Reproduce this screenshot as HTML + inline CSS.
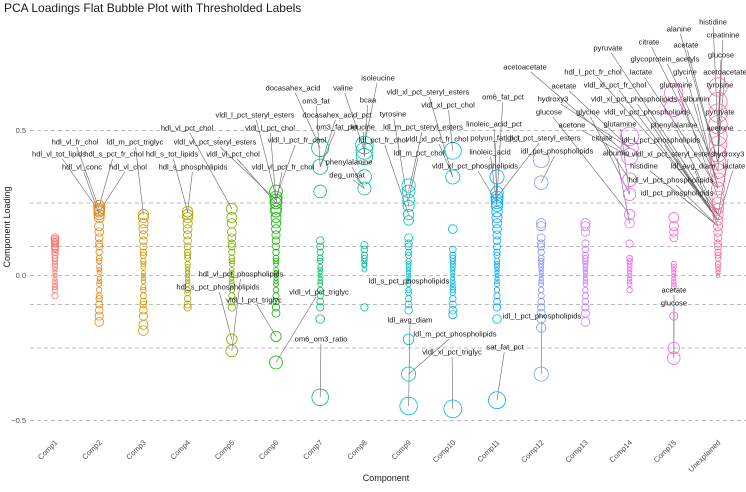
<!DOCTYPE html>
<html><head><meta charset="utf-8"><style>
html,body{margin:0;padding:0;background:#fff}
svg{display:block;font-family:"Liberation Sans",sans-serif}
</style></head><body>
<svg id="chart" width="746" height="492" viewBox="0 0 746 492">
<text x="4" y="12" font-size="12" fill="#1a1a1a">PCA Loadings Flat Bubble Plot with Thresholded Labels</text>
<g id="grid"></g>
<g id="yaxis"></g>
<g id="xaxis"></g>
<g id="segs"></g>
<g id="pts"></g>
<g id="lbls"></g>
<text x="10" y="227" font-size="9" fill="#1a1a1a" text-anchor="middle" transform="rotate(-90 10 227)">Component Loading</text>
<text x="386" y="481" font-size="9" fill="#1a1a1a" text-anchor="middle">Component</text>
</svg>
<script>
const categories = ["Comp1","Comp2","Comp3","Comp4","Comp5","Comp6","Comp7","Comp8","Comp9","Comp10","Comp11","Comp12","Comp13","Comp14","Comp15","Unexplained"];
const comp1 = [0.13,0.125,0.12,0.115,0.11,0.1,0.095,0.09,0.08,0.07,0.06,0.05,0.04,0.03,0.02,0.01,0,-0.01,-0.02,-0.03,-0.04,-0.05,-0.07];
const comp2 = [0.24,0.23,0.225,0.22,0.21,0.2,0.17,0.15,0.13,0.11,0.1,0.08,0.06,0.05,0.03,0.02,0.01,-0.01,-0.02,-0.03,-0.05,-0.07,-0.08,-0.1,-0.12,-0.14,-0.16];
const comp3 = [0.21,0.2,0.18,0.16,0.14,0.12,0.1,0.08,0.07,0.05,0.04,0.03,0.01,0,-0.01,-0.02,-0.04,-0.05,-0.07,-0.09,-0.1,-0.12,-0.14,-0.17,-0.19];
const comp4 = [0.22,0.21,0.2,0.18,0.16,0.14,0.12,0.1,0.08,0.07,0.06,0.04,0.03,0.02,0.01,0,-0.01,-0.02,-0.03,-0.05,-0.06,-0.08,-0.1,-0.11];
const comp5 = [0.23,0.2,0.18,0.15,0.13,0.11,0.1,0.08,0.06,0.05,0.04,0.02,0.01,0,-0.01,-0.02,-0.03,-0.05,-0.07,-0.09,-0.11,-0.22,-0.26];
const comp6 = [0.29,0.27,0.26,0.25,0.23,0.22,0.2,0.18,0.16,0.14,0.12,0.1,0.08,0.06,0.05,0.04,0.02,0.01,0,-0.01,-0.02,-0.03,-0.05,-0.07,-0.09,-0.11,-0.13,-0.21,-0.30];
const comp7 = [0.44,0.375,0.29,0.12,0.1,0.08,0.06,0.05,0.03,0.02,0.01,0,-0.01,-0.02,-0.03,-0.05,-0.07,-0.09,-0.11,-0.15,-0.42];
const comp8 = [0.45,0.43,0.41,0.34,0.30,0.105,0.09,0.07,0.06,0.05,0.04,0.035,0.02,-0.11];
const comp9 = [0.31,0.29,0.26,0.24,0.21,0.19,0.13,0.11,0.1,0.08,0.07,0.05,0.04,0.03,0.02,0.01,0,-0.01,-0.02,-0.03,-0.05,-0.06,-0.08,-0.1,-0.12,-0.22,-0.34,-0.45];
const comp10 = [0.43,0.34,0.16,0.09,0.07,0.06,0.05,0.04,0.03,0.02,0.01,0,-0.01,-0.02,-0.03,-0.04,-0.05,-0.06,-0.08,-0.1,-0.12,-0.135,-0.46];
const comp11 = [0.34,0.285,0.27,0.26,0.25,0.24,0.22,0.2,0.18,0.16,0.14,0.12,0.1,0.08,0.07,0.05,0.04,0.03,0.02,0.01,0,-0.01,-0.02,-0.03,-0.05,-0.07,-0.09,-0.11,-0.15,-0.43];
const comp12 = [0.40,0.32,0.18,0.17,0.13,0.11,0.1,0.08,0.06,0.05,0.04,0.03,0.02,0.01,0,-0.01,-0.02,-0.03,-0.05,-0.07,-0.09,-0.11,-0.13,-0.15,-0.18,-0.34];
const comp13 = [0.18,0.17,0.15,0.11,0.09,0.07,0.06,0.05,0.04,0.03,0.02,0.01,0,-0.01,-0.02,-0.03,-0.05,-0.07,-0.09,-0.11,-0.13,-0.16];
const comp14 = [0.48,0.44,0.41,0.33,0.28,0.21,0.18,0.11,0.06,0.05,0.04,0.03,0.02,0.01,0,-0.01,-0.02,-0.03,-0.05];
const comp15 = [0.63,0.58,0.20,0.17,0.15,0.13,0.04,0.03,0.02,0.01,0,-0.01,-0.02,-0.03,-0.04,-0.14,-0.25,-0.285];
const unexplained = [0.65,0.6,0.56,0.52,0.48,0.45,0.42,0.39,0.36,0.33,0.3,0.27,0.25,0.23,0.21,0.19,0.17,0.15,0.13,0.11,0.1,0.08,0.07,0.06,0.04,0.03,0.02,0.01,0];
const seriesValues = [comp1,comp2,comp3,comp4,comp5,comp6,comp7,comp8,comp9,comp10,comp11,comp12,comp13,comp14,comp15,unexplained];
const yTicks = [0.5,0,-0.5];
const yTickLabels = ["0.5","0.0","\u22120.5"];
const thresholds = [0.5,0.25,0.1,0,-0.1,-0.25,-0.5];
const labelTexts = ["hdl_vl_fr_chol","hdl_vl_tot_lipids","hdl_s_pct_fr_chol","hdl_vl_conc","hdl_vl_chol","ldl_m_pct_triglyc","hdl_s_tot_lipids","hdl_s_phospholipids","hdl_vl_pct_chol","vldl_l_pct_steryl_esters","vldl_vl_pct_steryl_esters","vldl_l_pct_chol","vldl_vl_pct_chol","vldl_l_pct_fr_chol","vldl_vl_pct_fr_chol","hdl_vl_pct_phospholipids","hdl_s_pct_phospholipids","vldl_l_pct_triglyc","vldl_vl_pct_triglyc","docasahex_acid","om3_fat","docasahex_acid_pct","om3_fat_pct","valine","isoleucine","bcaa","leucine","phenylalanine","deg_unsat","tyrosine","ldl_pct_fr_chol","ldl_m_pct_steryl_esters","ldl_m_pct_chol","vldl_xl_pct_steryl_esters","vldl_xl_pct_chol","vldl_xl_pct_fr_chol","ldl_s_pct_phospholipids","om6_om3_ratio","ldl_avg_diam","ldl_m_pct_phospholipids","vldl_xl_pct_triglyc","om6_fat_pct","linoleic_acid_pct","polyun_fat_pct","linoleic_acid","vldl_xl_pct_phospholipids","sat_fat_pct","ldl_l_pct_steryl_esters","idl_pct_phospholipids","idl_l_pct_phospholipids","acetoacetate","acetate","hydroxy3","glucose","acetone","glycine","citrate","glutamine","albumin","pyruvate","hdl_l_pct_fr_chol","vldl_xl_pct_fr_chol","vldl_xl_pct_phospholipids","vldl_vl_pct_phospholipids","phenylalanine","ldl_l_pct_phospholipids","vldl_xl_pct_steryl_esters","histidine","ldl_avg_diam","hdl_vl_pct_phospholipids","idl_pct_phospholipids","citrate","glycoprotein_acetyls","lactate","glutamine","albumin","alanine","acetate","glycine","histidine","creatinine","glucose","acetoacetate","tyrosine","pyruvate","acetone","hydroxy3","lactate","acetate","glucose"];
const labelComp = [1,1,1,1,1,2,3,3,4,5,5,5,5,5,5,4,4,5,5,6,6,6,6,7,7,7,7,7,7,8,8,8,8,9,9,9,8,6,8,8,9,10,10,10,10,10,10,10,11,11,13,13,13,13,13,13,13,13,13,15,15,15,15,15,15,15,15,15,15,15,15,15,15,15,15,15,15,15,15,15,15,15,15,15,15,15,15,15,14,14];
const labelValue = [0.23,0.22,0.24,0.21,0.22,0.21,0.22,0.22,0.23,0.27,0.26,0.26,0.25,0.27,0.25,-0.26,-0.22,-0.21,-0.30,0.44,0.375,0.375,0.375,0.43,0.45,0.41,0.41,0.30,0.30,0.24,0.21,0.29,0.26,0.34,0.43,0.34,0.0,-0.42,-0.45,-0.34,-0.46,0.27,0.25,0.26,0.24,0.25,-0.43,0.27,0.32,-0.34,0.41,0.44,0.44,0.21,0.41,0.28,0.33,0.28,0.18,0.21,0.21,0.19,0.19,0.19,0.21,0.19,0.19,0.17,0.17,0.17,0.17,0.33,0.36,0.3,0.27,0.3,0.39,0.39,0.3,0.48,0.45,0.36,0.42,0.52,0.45,0.39,0.21,0.19,-0.285,-0.285];
const labelLayoutX = [75,59,114,82,128,135,172,193,187,255,215,270,233,297,283,241,218,254,319,293,316,337,337,343,378,368,363,349,347,393,383,423,419,428,448,437,409,321,410,455,452,503,494,495,490,475,505,543,557,542,525,564,553,549,572,588,602,620,616,608,593,615,634,647,674,661,673,644,693,671,677,649,665,641,676,696,679,686,685,713,723,721,725,720,720,720,729,734,674,674];
const labelLayoutY = [142,154,154,167,167,142,154,167,128,115,142,128,154,140,167,274,287,300,292,88,101,115,127,88,78,100,127,162,175,114,140,127,153,92,105,139,281,339,320,334,352,97,124,138,152,166,347,138,151,316,67,86,99,112,125,112,138,124,153,48,72,85,99,112,125,140,154,166,166,180,193,42,59,72,85,99,29,45,72,22,35,55,72,85,112,128,154,166,290,303];

const NS = "http://www.w3.org/2000/svg";
const X0 = 55, DX = 44.2, Y0 = 275.5, YS = 290, XL = 30, XR = 746;
const xScale = i => X0 + i * DX;
const yScale = v => Y0 - v * YS;
const rScale = v => Math.min(2 + 15 * Math.abs(v), 9.2);

function hcl(h, c, l) {
  const Y = Math.pow((l + 16) / 116, 3);
  const un = 0.19784, vn = 0.46834;
  const hr = h * Math.PI / 180;
  const u = c * Math.cos(hr), v = c * Math.sin(hr);
  const up = u / (13 * l) + un, vp = v / (13 * l) + vn;
  const X = Y * 9 * up / (4 * vp), Z = Y * (12 - 3 * up - 20 * vp) / (4 * vp);
  let r = 3.2406 * X - 1.5372 * Y - 0.4986 * Z;
  let g = -0.9689 * X + 1.8758 * Y + 0.0415 * Z;
  let b = 0.0557 * X - 0.2040 * Y + 1.0570 * Z;
  const gm = t => { t = t <= 0.0031308 ? 12.92 * t : 1.055 * Math.pow(t, 1 / 2.4) - 0.055; return Math.round(Math.max(0, Math.min(1, t)) * 255); };
  return "rgb(" + gm(r) + "," + gm(g) + "," + gm(b) + ")";
}
const colors = categories.map((c, i) => hcl(15 + 360 * i / categories.length, 100, 65));

function mk(tag, attrs, parent) {
  const e = document.createElementNS(NS, tag);
  for (const k in attrs) e.setAttribute(k, attrs[k]);
  parent.appendChild(e);
  return e;
}
const grid = document.getElementById("grid");
thresholds.forEach(t => {
  const l = mk("line", {x1: XL, x2: XR, y1: yScale(t), y2: yScale(t), stroke: "#bdbdbd", "stroke-width": 0.9, "stroke-dasharray": "4,3"}, grid);
  
  
});
const yaxis = document.getElementById("yaxis");
yTicks.forEach((t, i) => {
  const tx = mk("text", {x: 26, y: yScale(t) + 2.5, "font-size": 7.5, fill: "#4d4d4d", "text-anchor": "end"}, yaxis);
  tx.textContent = yTickLabels[i];
  
  
});
const xaxis = document.getElementById("xaxis");
categories.forEach((c, i) => {
  const x = xScale(i) + 3, y = 443;
  const tx = mk("text", {x: x, y: y, "font-size": 7.5, fill: "#4d4d4d", "text-anchor": "end", transform: "rotate(-45 " + x + " " + y + ")"}, xaxis);
  tx.textContent = c;
  
  
});
const pts = document.getElementById("pts");
seriesValues.forEach((vals, i) => {
  vals.forEach(v => {
    const ci = mk("circle", {cx: xScale(i), cy: yScale(v), r: rScale(v), fill: "none", stroke: colors[i], "stroke-width": 0.8}, pts);
    
    
  });
});
const segs = document.getElementById("segs"), lbls = document.getElementById("lbls");
labelTexts.forEach((t, k) => {
  const lx = labelLayoutX[k], ly = labelLayoutY[k];
  const tx = mk("text", {x: lx, y: ly + 2.7, "font-size": 7.6, fill: "#1a1a1a", "text-anchor": "middle"}, lbls);
  tx.textContent = t;
  
  
  let w = t.length * 3.5;
  try { w = tx.getComputedTextLength() || w; } catch (e) {}
  const hw = w / 2 + 1, hh = 5;
  const px = xScale(labelComp[k]), py = yScale(labelValue[k]);
  const dx = px - lx, dy = py - ly;
  let s = 1;
  if (dx !== 0) s = Math.min(s, hw / Math.abs(dx));
  if (dy !== 0) s = Math.min(s, hh / Math.abs(dy));
  if (s >= 1) return;
  const sg = mk("line", {x1: lx + dx * s, y1: ly + dy * s, x2: px, y2: py, stroke: "#666", "stroke-width": 0.6}, segs);
  
  
});
</script>
</body></html>
